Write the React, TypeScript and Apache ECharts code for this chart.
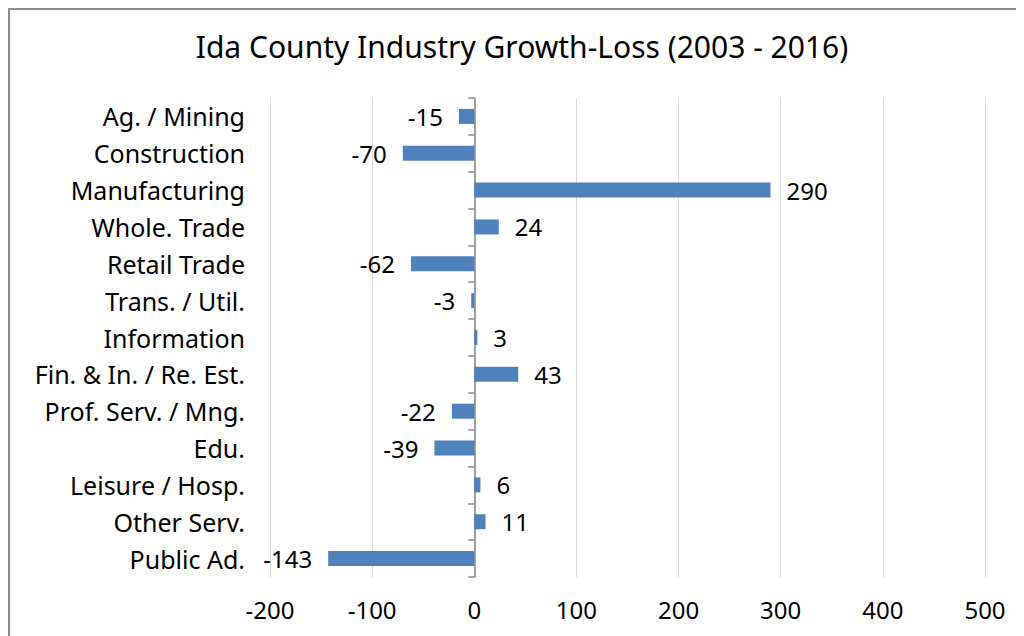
import React, { useEffect, useRef } from "react";
import * as echarts from "echarts";

const titleText = "Ida County Industry Growth-Loss (2003 - 2016)";
const categories = [
  "Ag. / Mining",
  "Construction",
  "Manufacturing",
  "Whole. Trade",
  "Retail Trade",
  "Trans. / Util.",
  "Information",
  "Fin. & In. / Re. Est.",
  "Prof. Serv. / Mng.",
  "Edu.",
  "Leisure / Hosp.",
  "Other Serv.",
  "Public Ad.",
];
const values = [-15, -70, 290, 24, -62, -3, 3, 43, -22, -39, 6, 11, -143];
const xMin = -200;
const xMax = 500;
const xInterval = 100;

const FONT = "Noto Sans";

export default function App() {
  const ref = useRef<HTMLDivElement>(null);
  useEffect(() => {
    if (!ref.current) return;
    const chart = echarts.init(ref.current, null, { renderer: "svg" });
    chart.setOption({
      animation: false,
      backgroundColor: "#fff",
      textStyle: { fontFamily: FONT },
      title: {
        text: titleText,
        left: "center",
        top: 16,
        textStyle: { fontFamily: FONT, fontSize: 30, fontWeight: "normal", color: "#000" },
      },
      grid: { left: 260, top: 88, width: 715, height: 479, containLabel: false },
      xAxis: {
        type: "value",
        min: xMin,
        max: xMax,
        interval: xInterval,
        axisLine: { show: false },
        axisTick: { show: false },
        splitLine: { show: true, lineStyle: { color: "#d9d9d9", width: 1 } },
        axisLabel: { fontFamily: FONT, fontSize: 24, color: "#000", margin: 20 },
      },
      yAxis: [
        {
          type: "category",
          data: categories,
          inverse: true,
          position: "left",
          axisLine: { show: false, onZero: false },
          axisTick: { show: false },
          splitLine: { show: false },
          axisLabel: { fontFamily: FONT, fontSize: 25, color: "#000", margin: 25 },
        },
        {
          type: "category",
          data: categories,
          inverse: true,
          axisLine: { show: true, onZero: true, lineStyle: { color: "#868686", width: 1.5 } },
          axisTick: { show: true, inside: true, length: 6, lineStyle: { color: "#868686", width: 1.5 } },
          axisLabel: { show: false },
          splitLine: { show: false },
        },
      ],
      series: [
        {
          type: "bar",
          yAxisIndex: 0,
          barWidth: 15,
          itemStyle: { color: "#4f81bd" },
          label: {
            show: true,
            fontFamily: FONT,
            fontSize: 24,
            color: "#000",
            distance: 16,
          },
          data: values.map((v) => ({
            value: v,
            label: { position: v < 0 ? "left" : "right" },
          })),
        },
      ],
    });
    return () => chart.dispose();
  }, []);
  return (
    <div
      ref={ref}
      style={{ width: 1024, height: 640, border: "2px solid #8c8c8c" }}
    />
  );
}
